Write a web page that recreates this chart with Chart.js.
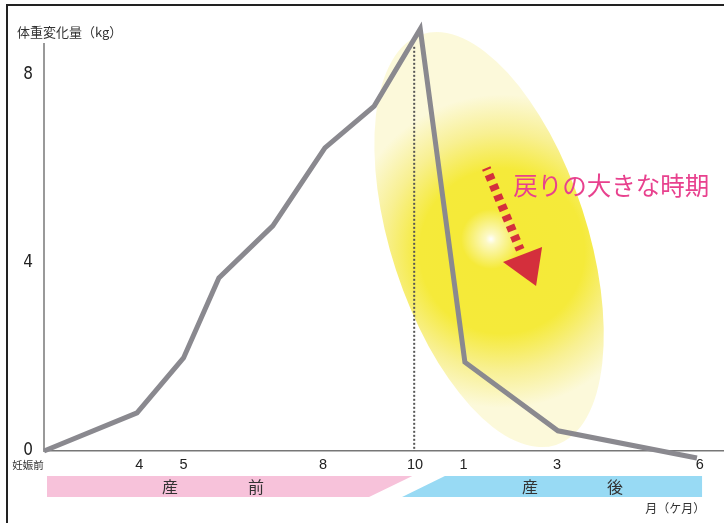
<!DOCTYPE html>
<html>
<head>
<meta charset="utf-8">
<script src="https://cdn.jsdelivr.net/npm/chart.js@4.4.1/dist/chart.umd.min.js"></script>
<style>
  html, body { margin: 0; padding: 0; background: #fff; }
  canvas { display: block; }
</style>
</head>
<body>
<canvas id="chart" width="724" height="523"></canvas>
<script>
// Axis labels: months before birth, then months after birth
const tickLabels = ['妊娠前', '4', '5', '8', '10', '1', '3', '6'];
const tickPositions = [0, 2.05, 3, 6, 7.98, 9.02, 11.03, 14.1];

// Weight change (kg) along the timeline
const timeline = [0, 2, 3, 3.76, 4.92, 6.04, 7.1, 8.09, 9.05, 11.05, 14.04];
const weightChange = [0, 0.81, 1.98, 3.68, 4.79, 6.45, 7.34, 8.98, 1.89, 0.43, -0.15];

const yTicks = [0, 4, 8];
const deliveryPos = 7.96;

const CJK = '"Noto Sans CJK JP", "Noto Sans CJK SC", sans-serif';
const LINE_GRAY = '#8a898f';
const RED = '#d42f3c';
const PINK_TEXT = '#e8418e';

const decorations = {
  id: 'decorations',
  beforeDraw(chart) {
    const ctx = chart.ctx;
    ctx.save();
    ctx.fillStyle = '#fff';
    ctx.fillRect(0, 0, chart.width, chart.height);
    // outer frame (top and left)
    ctx.strokeStyle = '#222';
    ctx.lineWidth = 2;
    ctx.beginPath();
    ctx.moveTo(7, chart.height);
    ctx.lineTo(7, 5);
    ctx.lineTo(chart.width, 5);
    ctx.stroke();
    // axis title
    ctx.fillStyle = '#333';
    ctx.font = '13px ' + CJK;
    ctx.textAlign = 'left';
    ctx.textBaseline = 'middle';
    ctx.fillText('体重変化量（kg）', 17, 32);
    ctx.restore();
  },
  beforeDatasetsDraw(chart) {
    const ctx = chart.ctx;
    const xs = chart.scales.x, ys = chart.scales.y;
    const px = v => xs.getPixelForValue(v);
    const py = v => ys.getPixelForValue(v);

    // highlighted recovery period
    const cx = px(9.57), cy = py(4.5);
    ctx.save();
    ctx.beginPath();
    ctx.ellipse(cx, cy, 98, 216, -0.315, 0, Math.PI * 2);
    ctx.clip();
    const gx = px(9.85), gy = py(4.25);
    const g = ctx.createRadialGradient(gx, gy, 0, gx, gy, 165);
    g.addColorStop(0, '#f5ea37');
    g.addColorStop(0.5, '#f5ea3a');
    g.addColorStop(0.72, '#f8f092');
    g.addColorStop(0.95, '#fcf9da');
    g.addColorStop(1, '#fcf9da');
    ctx.fillStyle = g;
    ctx.fillRect(cx - 260, cy - 260, 520, 520);
    const wx = px(9.61), wy = py(4.51);
    const w = ctx.createRadialGradient(wx, wy, 0, wx, wy, 30);
    w.addColorStop(0, 'rgba(255,255,255,1)');
    w.addColorStop(0.18, 'rgba(255,255,255,0.7)');
    w.addColorStop(1, 'rgba(255,255,255,0)');
    ctx.fillStyle = w;
    ctx.fillRect(wx - 40, wy - 40, 80, 80);
    ctx.restore();

    // delivery marker
    ctx.save();
    ctx.strokeStyle = '#555';
    ctx.lineWidth = 2;
    ctx.setLineDash([2, 2]);
    ctx.beginPath();
    ctx.moveTo(px(deliveryPos), py(8.6));
    ctx.lineTo(px(deliveryPos), py(0));
    ctx.stroke();
    ctx.restore();
  },
  afterDatasetsDraw(chart) {
    const ctx = chart.ctx;
    const xs = chart.scales.x, ys = chart.scales.y;
    const px = v => xs.getPixelForValue(v);
    const py = v => ys.getPixelForValue(v);
    const base = ys.getPixelForValue(0);

    // dashed arrow
    ctx.save();
    ctx.strokeStyle = RED;
    ctx.lineWidth = 9;
    ctx.setLineDash([6, 5]);
    ctx.lineDashOffset = 4;
    ctx.beginPath();
    ctx.moveTo(px(9.51), py(6.02));
    ctx.lineTo(px(10.24), py(4.28));
    ctx.stroke();
    ctx.setLineDash([]);
    ctx.fillStyle = RED;
    ctx.beginPath();
    ctx.moveTo(px(9.87), py(4.02));
    ctx.lineTo(px(10.71), py(4.34));
    ctx.lineTo(px(10.58), py(3.51));
    ctx.closePath();
    ctx.fill();

    ctx.fillStyle = PINK_TEXT;
    ctx.font = '24.5px ' + CJK;
    ctx.textAlign = 'left';
    ctx.textBaseline = 'middle';
    ctx.fillText('戻りの大きな時期', px(10.09), py(5.64));
    ctx.restore();

    // pre/post birth bands
    const top = base + 25, bot = base + 46;
    ctx.save();
    ctx.fillStyle = '#f7c2da';
    ctx.beginPath();
    ctx.moveTo(px(0.065), top);
    ctx.lineTo(px(7.92), top);
    ctx.lineTo(px(6.99), bot);
    ctx.lineTo(px(0.065), bot);
    ctx.closePath();
    ctx.fill();
    ctx.fillStyle = '#98daf4';
    ctx.beginPath();
    ctx.moveTo(px(8.62), top);
    ctx.lineTo(px(14.15), top);
    ctx.lineTo(px(14.15), bot);
    ctx.lineTo(px(7.7), bot);
    ctx.closePath();
    ctx.fill();

    ctx.fillStyle = '#333';
    ctx.font = '16px ' + CJK;
    ctx.textAlign = 'center';
    ctx.textBaseline = 'middle';
    const mid = (top + bot) / 2;
    ctx.fillText('産', px(2.71), mid);
    ctx.fillText('前', px(4.56), mid);
    ctx.fillText('産', px(10.45), mid);
    ctx.fillText('後', px(12.28), mid);

    ctx.font = '12px ' + CJK;
    ctx.textAlign = 'right';
    ctx.fillText('月（ケ月）', px(14.22), base + 57);

    ctx.font = '10.5px ' + CJK;
    ctx.textAlign = 'center';
    ctx.fillText(tickLabels[0], px(0) - 16, base + 14);
    ctx.restore();
  }
};

new Chart(document.getElementById('chart'), {
  type: 'line',
  data: {
    datasets: [{
      data: timeline.map((t, i) => ({ x: t, y: weightChange[i] })),
      borderColor: LINE_GRAY,
      borderWidth: 5,
      borderJoinStyle: 'miter',
      borderCapStyle: 'butt',
      tension: 0,
      pointRadius: 0,
      pointHoverRadius: 0,
      fill: false,
      clip: false
    }]
  },
  options: {
    responsive: false,
    animation: false,
    devicePixelRatio: 1,
    layout: { padding: { top: 44, right: 1, left: 0, bottom: 0 } },
    plugins: { legend: { display: false }, tooltip: { enabled: false } },
    events: [],
    scales: {
      x: {
        type: 'linear',
        min: 0,
        max: 14.6,
        afterBuildTicks: s => { s.ticks = tickPositions.map(v => ({ value: v })); },
        afterFit: s => { s.height = 72; },
        grid: { display: false, drawTicks: false },
        border: { display: true, color: '#777', width: 1.5 },
        ticks: {
          autoSkip: false,
          maxRotation: 0,
          padding: 5,
          color: '#222',
          font: { family: '"Liberation Sans", Arial, sans-serif', size: 14.5 },
          callback: (v, i) => (i === 0 ? '' : tickLabels[i])
        }
      },
      y: {
        type: 'linear',
        min: 0,
        max: 8.66,
        afterBuildTicks: s => { s.ticks = yTicks.map(v => ({ value: v })); },
        afterFit: s => { s.width = 44; },
        grid: { display: false, drawTicks: false },
        border: { display: true, color: '#999', width: 2 },
        ticks: {
          padding: 11,
          color: '#222',
          font: { family: '"Liberation Sans Narrow", "DejaVu Sans Condensed", sans-serif', size: 17 },
          callback: v => String(v)
        }
      }
    }
  },
  plugins: [decorations]
});
</script>
</body>
</html>
